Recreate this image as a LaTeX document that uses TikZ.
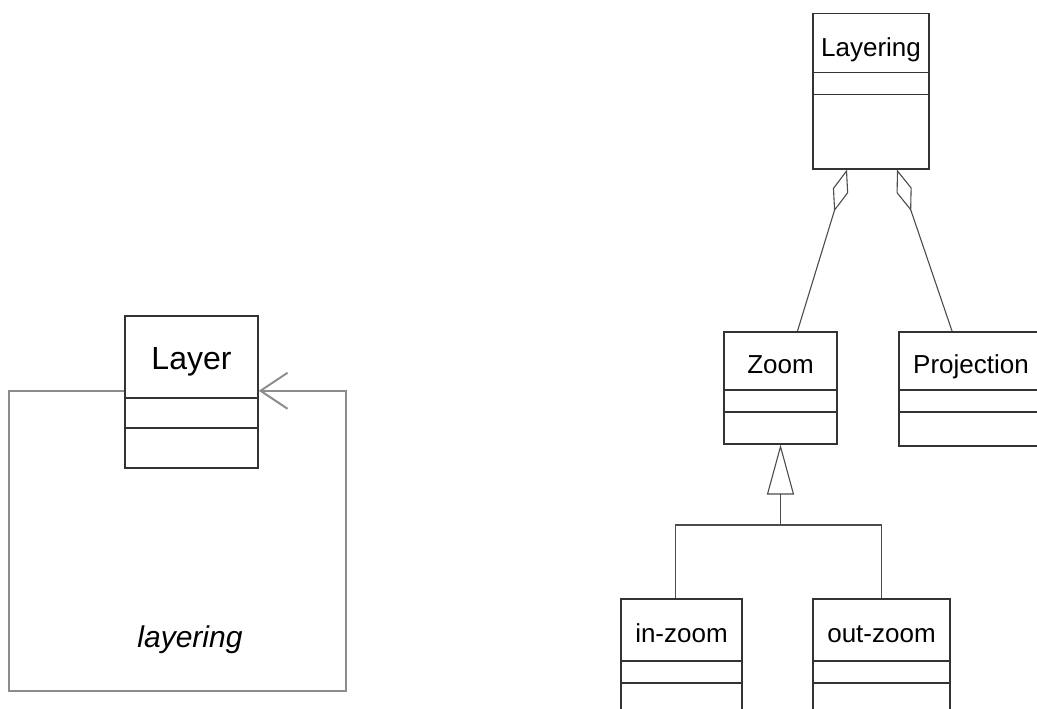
\documentclass[tikz,border=0pt]{standalone}
\usepackage{fontspec}
\setmainfont{Liberation Sans}
\usetikzlibrary{matrix,arrows.meta}
\tikzset{
umlclass/.style n args={4}{
  matrix of nodes,
  nodes in empty cells,
  inner sep=0pt,
  outer sep=0pt,
  nodes={draw=black!80, line width=1.5pt, fill=white, inner sep=0pt,
    minimum width=#1},
  row sep=-1.5pt,
  row 1/.style={minimum height=#2, text height=26pt, text depth=0pt},
  row 2/.style={minimum height=#3},
  row 3/.style={minimum height=#4}
  },
link/.style={draw=black!70, line width=1.1pt},
loopline/.style={draw=black!45, line width=2pt}
}

\begin{document}
\begin{tikzpicture}[x=1pt, y=-1pt, font=\fontsize{26}{30}\selectfont]
\useasboundingbox (0,0) rectangle (1037,709);
\clip (0,0) rectangle (1037,709);

% Layer and its self association
\matrix[umlclass={133pt}{82pt}{30pt}{40pt}, anchor=north,
  nodes={font=\fontsize{32}{36}\selectfont}]
at (191.5,315)
(layer)
{
Layer \\
\\
\\
};
\draw[loopline, -{Straight Barb[length=27pt,width=36pt]}]
  ([yshift=1pt]layer.west) -- ++(-115,0) -- ++(0,300) -- ++(337,0)
  -- ++(0,-300) -- ([yshift=1pt]layer.east);
\node[font=\fontsize{30}{36}\selectfont\itshape, anchor=base]
  (looplabel) at (190,647) {layering};

% Layering aggregates Zoom and Projection
\matrix[umlclass={116pt}{59pt}{22pt}{74pt}, anchor=north]
at (871,13)
(layering)
{
Layering \\
\\
\\
};
\matrix[umlclass={113pt}{58pt}{22pt}{32pt}, anchor=north]
at (780.5,331)
(zoom)
{
Zoom \\
\\
\\
};
\matrix[umlclass={144pt}{58pt}{22pt}{34pt}, anchor=north]
at (971,331)
(projection)
{
Projection \\
\\
\\
};

\begin{scope}[link, {Diamond[open,length=44pt,width=16pt]}-]
\draw
  ([xshift=-24pt]layering.south) -- ([xshift=17pt]zoom.north);
\draw
  ([xshift=26pt]layering.south) -- ([xshift=-19pt]projection.north);
\end{scope}

% subclasses of Zoom
\matrix[umlclass={121pt}{62pt}{22pt}{40pt}, anchor=north]
at (681.5,598)
(inzoom)
{
in-zoom \\
\\
\\
};
\matrix[umlclass={137pt}{62pt}{22pt}{40pt}, anchor=north]
at (881.5,598)
(outzoom)
{
out-zoom \\
\\
\\
};

\coordinate (fork) at (780.5,525);
\draw[link, -{Triangle[open,length=50pt,width=27pt]}]
  (fork) -- (zoom.south);
\draw[link]
  ([xshift=-6pt]inzoom.north) |- (fork) -| (outzoom.north);
\end{tikzpicture}
\end{document}
